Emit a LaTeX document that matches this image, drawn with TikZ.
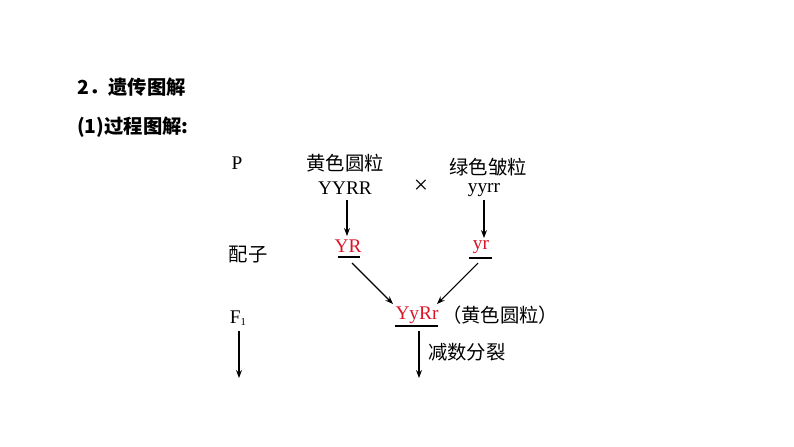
\documentclass[tikz,border=0pt]{standalone}
\usepackage{fontspec}
\usetikzlibrary{arrows.meta}
\setmainfont{Liberation Serif}
\newfontfamily\cjk{Noto Sans CJK SC}
\definecolor{gred}{RGB}{220,20,40}
\begin{document}
\begin{tikzpicture}[x=0.75pt,y=-0.75pt,
  lat/.style={font=\fontsize{14.5}{16}\selectfont, inner sep=0pt},
  zh/.style={font=\cjk\fontsize{14.5}{17}\selectfont, inner sep=0pt},
  gam/.style={lat, text=gred},
  arr/.style={-{Stealth[length=6pt,width=4.5pt]}, line width=0.8pt},
  ul/.style={line width=0.9pt}]
\useasboundingbox (0,0) rectangle (794,447);
\node[zh, anchor=west, font=\cjk\bfseries\fontsize{14.5}{17}\selectfont] (t1) at (77,87) {2．遗传图解};
\node[zh, anchor=west, font=\cjk\bfseries\fontsize{14.5}{17}\selectfont] (t2) at (77,127) {(1)过程图解:};
\node[lat] (P) at (237,163) {P};
\node[zh] (a) at (345,163) {黄色圆粒};
\node[lat] (a2) at (345,188) {YYRR};
\node[lat, font=\fontsize{19}{20}\selectfont] (x) at (421,187) {×};
\node[zh] (b) at (488,167) {绿色皱粒};
\node[lat] (b2) at (484,190) {yyrr};
\node[zh] (pz) at (248,255) {配子};
\node[gam] (g1) at (348,246) {YR};
\node[gam] (g2) at (481,247) {yr};
\draw[ul] (338,257) -- (360,257);
\draw[ul] (469,258) -- (492,258);
\coordinate (a2b) at (347,200); \coordinate (g1t) at (347,236);
\coordinate (b2b) at (484,200); \coordinate (g2t) at (484,238);
\draw[arr] (a2b) -- (g1t);
\draw[arr] (b2b) -- (g2t);
\node[lat] (F) at (238,318) {F{\fontsize{8}{9}\selectfont\raisebox{-0.3ex}{1}}};
\node[gam] (f1) at (417,315) {YyRr};
\draw[ul] (395,326) -- (438,326);
\node[zh, anchor=west] (f1t) at (442,315) {（黄色圆粒）};
\coordinate (g1b) at (352,263); \coordinate (f1l) at (393,304);
\coordinate (g2b) at (478,263); \coordinate (f1r) at (437,304);
\draw[arr] (g1b) -- (f1l);
\draw[arr] (g2b) -- (f1r);
\coordinate (Fb) at (239,331); \coordinate (Fe) at (239,378);
\coordinate (f1b) at (419,331); \coordinate (f1e) at (419,378);
\draw[arr] (Fb) -- (Fe);
\draw[arr] (f1b) -- (f1e);
\node[zh, anchor=west] (m) at (428,352) {减数分裂};
\end{tikzpicture}
\end{document}
